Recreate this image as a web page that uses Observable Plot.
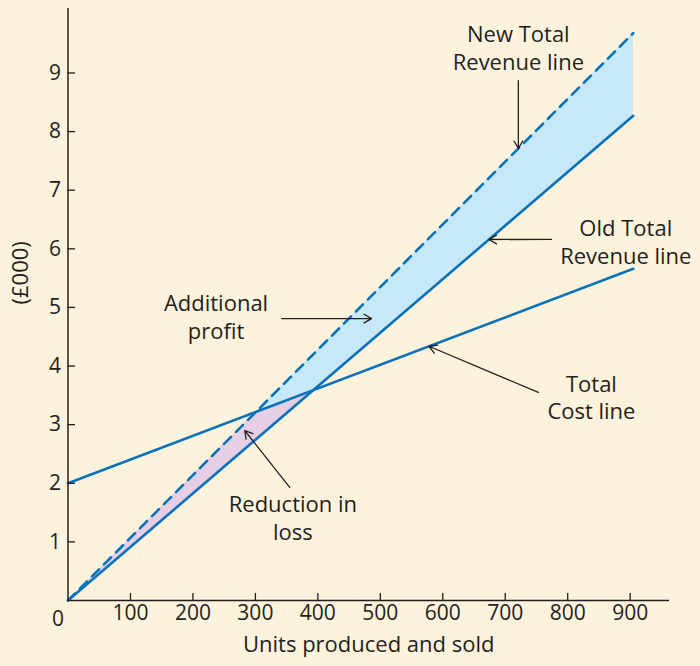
<!DOCTYPE html>
<html><head><meta charset="utf-8">
<script src="https://cdn.jsdelivr.net/npm/d3@7"></script>
<script src="https://cdn.jsdelivr.net/npm/@observablehq/plot@0.6"></script>
<style>
html,body{margin:0;padding:0;background:#fdf3dc;}
#chart svg{display:block;}
</style></head><body><div id="chart"></div>
<script>
// Series endpoints (units, £000)
const units = [0, 905];
const totalCost = [2, 5.66];
const oldRevenue = [0, 8.27];
const newRevenue = [0, 9.68];
const xTicks = [100, 200, 300, 400, 500, 600, 700, 800, 900];
const yTicks = [1, 2, 3, 4, 5, 6, 7, 8, 9];
const xTitle = "Units produced and sold";
const yTitle = "(£000)";

// Annotation texts (x, y in data units)
const labelTexts = ["New Total\nRevenue line", "Old Total\nRevenue line", "Additional\nprofit", "Total\nCost line", "Reduction in\nloss"];
const labelX = [721, 893, 237, 838, 360];
const labelY = [9.45, 6.14, 4.85, 3.48, 1.43];
// Arrows: tail (x1,y1) to tip (x2) on a line, or fixed y2
const arrowX1 = [721, 774, 342, 753, 355];
const arrowY1 = [8.87, 6.16, 4.81, 3.55, 1.93];
const arrowX2 = [721, 674, 486, 578, 283];
const arrowTarget = ["new", "old", null, "cost", null];
const arrowY2Fixed = [null, null, 4.81, null, 2.9];

const lerp = (ys) => (x) => ys[0] + (ys[1] - ys[0]) * (x - units[0]) / (units[1] - units[0]);
const fCost = lerp(totalCost), fOld = lerp(oldRevenue), fNew = lerp(newRevenue);
const fn = {cost: fCost, old: fOld, new: fNew};
const cross = (f, g) => { // x where f == g (linear)
  const a0 = f(units[0]) - g(units[0]), a1 = f(units[1]) - g(units[1]);
  return units[0] + (units[1] - units[0]) * a0 / (a0 - a1);
};
const xNC = cross(fNew, fCost), xOC = cross(fOld, fCost);

const lineData = (name, f) => units.map(x => ({x, y: f(x), name}));
const pink = [units[0], xNC, xOC].map(x => ({x, y1: fOld(x), y2: Math.min(fNew(x), fCost(x))}));
const blue = [xNC, xOC, units[1]].map(x => ({x, y1: Math.max(fOld(x), fCost(x)), y2: fNew(x)}));
const labels = labelTexts.map((t, i) => ({t, x: labelX[i], y: labelY[i]}));
const arrows = arrowX1.map((x1, i) => ({
  x1, y1: arrowY1[i], x2: arrowX2[i],
  y2: arrowTarget[i] ? fn[arrowTarget[i]](arrowX2[i]) : arrowY2Fixed[i]
}));

const ink = "#231f20", lineColor = "#0a72ba";
const chart = Plot.plot({
  width: 700, height: 666,
  marginLeft: 67.5, marginRight: 31, marginTop: 8, marginBottom: 66,
  style: {background: "transparent", fontFamily: "'Open Sans', sans-serif", color: ink},
  x: {domain: [0, 963], axis: null},
  y: {domain: [0, 10.1], axis: null},
  marks: [
    Plot.areaY(pink, {x: "x", y1: "y1", y2: "y2", fill: "#e6cfe4"}),
    Plot.areaY(blue, {x: "x", y1: "y1", y2: "y2", fill: "#c6e8f8"}),
    Plot.line(lineData("cost", fCost), {x: "x", y: "y", stroke: lineColor, strokeWidth: 2.6}),
    Plot.line(lineData("old", fOld), {x: "x", y: "y", stroke: lineColor, strokeWidth: 2.6}),
    Plot.line(lineData("new", fNew), {x: "x", y: "y", stroke: lineColor, strokeWidth: 2.6, strokeDasharray: "10,7"}),
    Plot.ruleX([0], {stroke: ink, strokeWidth: 1.5}),
    Plot.ruleY([0], {stroke: ink, strokeWidth: 1.5}),
    Plot.tickX(xTicks, {x: d => d, stroke: ink, strokeWidth: 1.3, insetTop: 585}),
    Plot.tickY(yTicks, {y: d => d, stroke: ink, strokeWidth: 1.3, insetRight: 594}),
    Plot.text(xTicks, {x: d => d, frameAnchor: "bottom", dy: 19, text: d => String(d), fontSize: 21, fill: ink}),
    Plot.text(yTicks, {y: d => d, frameAnchor: "left", dx: -7, textAnchor: "end", text: d => String(d), fontSize: 21, fill: ink}),
    Plot.text(["0"], {x: 0, y: 0, dx: -10, dy: 19, fontSize: 21, fill: ink}),
    Plot.text([xTitle], {frameAnchor: "bottom", dy: 51, fontSize: 22, fill: ink}),
    Plot.text([yTitle], {frameAnchor: "left", dx: -47, rotate: -90, fontSize: 22, fill: ink}),
    Plot.arrow(arrows, {x1: "x1", y1: "y1", x2: "x2", y2: "y2", stroke: ink, strokeWidth: 1.3, headLength: 10}),
    Plot.text(labels, {x: "x", y: "y", text: "t", fontSize: 22, lineHeight: 1.27, fill: ink, textAnchor: "middle"})
  ]
});
document.getElementById("chart").appendChild(chart);
</script></body></html>
